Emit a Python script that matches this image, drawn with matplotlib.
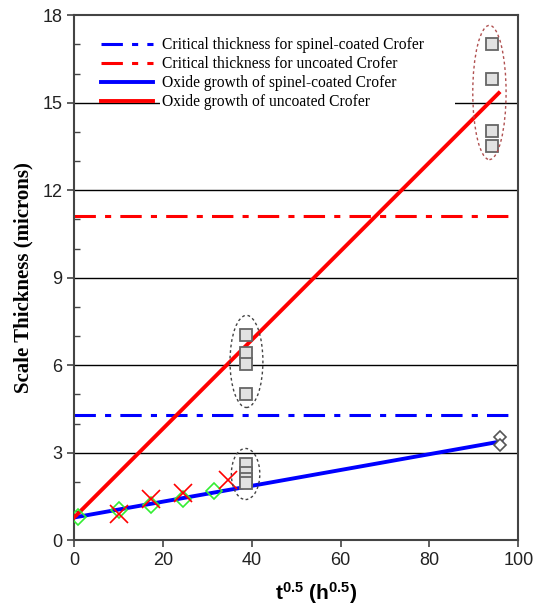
import numpy as np
import matplotlib.pyplot as plt
from matplotlib.patches import Ellipse, Rectangle
from matplotlib.ticker import MultipleLocator
from matplotlib.transforms import blended_transform_factory

plt.rcParams['mathtext.fontset'] = 'custom'
plt.rcParams['mathtext.bf'] = 'Liberation Sans:bold'
plt.rcParams['mathtext.rm'] = 'Liberation Sans:bold'

# oxide growth fits (endpoints)
coated_x = [0, 96.2]
coated_y = [0.78, 3.39]
uncoated_x = [0, 95.6]
uncoated_y = [0.78, 15.33]
crit_coated = 4.3
crit_uncoated = 11.1

# measured points
green_x = [0.8, 10.0, 17.3, 24.5, 31.6]
green_y = [0.8, 1.02, 1.2, 1.4, 1.7]
cross_x = [10.0, 17.3, 24.5, 34.6]
cross_y = [0.9, 1.43, 1.62, 2.08]
sq_mid_x = [38.7, 38.7, 38.7, 38.7]
sq_mid_y = [7.03, 6.42, 6.03, 5.03]
sq_low_x = [38.7, 38.7, 38.7, 38.7]
sq_low_y = [2.63, 2.31, 2.11, 1.96]
sq_top_x = [94.0, 94.0, 94.0, 94.0]
sq_top_y = [17.0, 15.8, 14.03, 13.5]
dia_x = [95.9, 95.9]
dia_y = [3.54, 3.26]

fig = plt.figure(figsize=(5.45, 6.07), dpi=100)
ax = fig.add_axes([0.136, 0.110, 0.815, 0.865])

for g in [3, 6, 9, 12, 15]:
    ax.axhline(g, color='black', lw=1.0, zorder=1)

# white legend box hides the 15 gridline behind the legend text
trans = blended_transform_factory(ax.transAxes, ax.transData)
ax.add_patch(Rectangle((0.194, 14.6), 0.664, 0.8, transform=trans, fc='white', ec='none', zorder=1.5))

ax.axhline(crit_coated, color='blue', lw=2.2, dashes=(7, 3, 2, 3), label='Critical thickness for spinel-coated Crofer', zorder=2)
ax.axhline(crit_uncoated, color='red', lw=2.2, dashes=(7, 3, 2, 3), label='Critical thickness for uncoated Crofer', zorder=2)
ax.plot(coated_x, coated_y, color='blue', lw=2.8, label='Oxide growth of spinel-coated Crofer', zorder=3)
ax.plot(uncoated_x, uncoated_y, color='red', lw=2.8, label='Oxide growth of uncoated Crofer', zorder=3)

ax.plot(green_x, green_y, 'D', mfc='none', mec='#33ee33', ms=8, mew=1.2, zorder=4)
ax.plot(cross_x, cross_y, 'x', color='red', ms=13, mew=1.2, zorder=4)
sq = dict(marker='s', ls='none', mfc='#e2e2e2', mec='#666666', ms=9, mew=1.3, zorder=5)
ax.plot(sq_mid_x, sq_mid_y, **sq)
ax.plot(sq_low_x, sq_low_y, **sq)
ax.plot(sq_top_x, sq_top_y, **sq)
ax.plot(dia_x, dia_y, 'D', mfc='white', mec='#555555', ms=6, mew=1.2, zorder=5)

ax.add_patch(Ellipse((38.8, 6.13), 7.4, 3.16, fill=False, ec='#444444', ls=(0, (2, 2)), lw=1.0, zorder=6))
ax.add_patch(Ellipse((38.6, 2.27), 6.4, 1.75, fill=False, ec='#444444', ls=(0, (2, 2)), lw=1.0, zorder=6))
ax.add_patch(Ellipse((93.5, 15.35), 7.5, 4.6, fill=False, ec='#b05050', ls=(0, (2, 2)), lw=1.0, zorder=6))

ax.set_xlim(0, 100)
ax.set_ylim(0, 18)
ax.set_xticks([0, 20, 40, 60, 80, 100])
ax.set_yticks([0, 3, 6, 9, 12, 15, 18])
ax.yaxis.set_minor_locator(MultipleLocator(1))
ax.tick_params(axis='both', which='major', direction='out', length=5, width=1.2, color='#444444',
               labelsize=13, labelcolor='#222222')
ax.tick_params(axis='y', which='minor', direction='in', length=4, width=1.0, color='#444444')
for lab in ax.get_xticklabels() + ax.get_yticklabels():
    lab.set_family('Liberation Sans')
for s in ax.spines.values():
    s.set_color('#444444')
    s.set_linewidth(1.5)

ax.set_xlabel(r'$\mathbf{t^{0.5}}$ $\mathbf{(h^{0.5})}$', fontsize=15, fontfamily='Liberation Sans',
              fontweight='bold')
ax.xaxis.set_label_coords(0.545, -0.075)
ax.set_ylabel('Scale Thickness (microns)', fontsize=15, fontfamily='Liberation Serif',
              fontweight='bold', labelpad=6)

leg = ax.legend(loc='upper left', bbox_to_anchor=(0.03, 0.985), frameon=False,
                prop={'family': 'Liberation Serif', 'size': 11.2}, handlelength=3.3,
                labelspacing=0.2, handletextpad=0.6)
leg.set_zorder(7)
for t in leg.get_texts():
    t.set_bbox(dict(facecolor='white', edgecolor='none', pad=1))

fig.savefig('out.png', dpi=100)
